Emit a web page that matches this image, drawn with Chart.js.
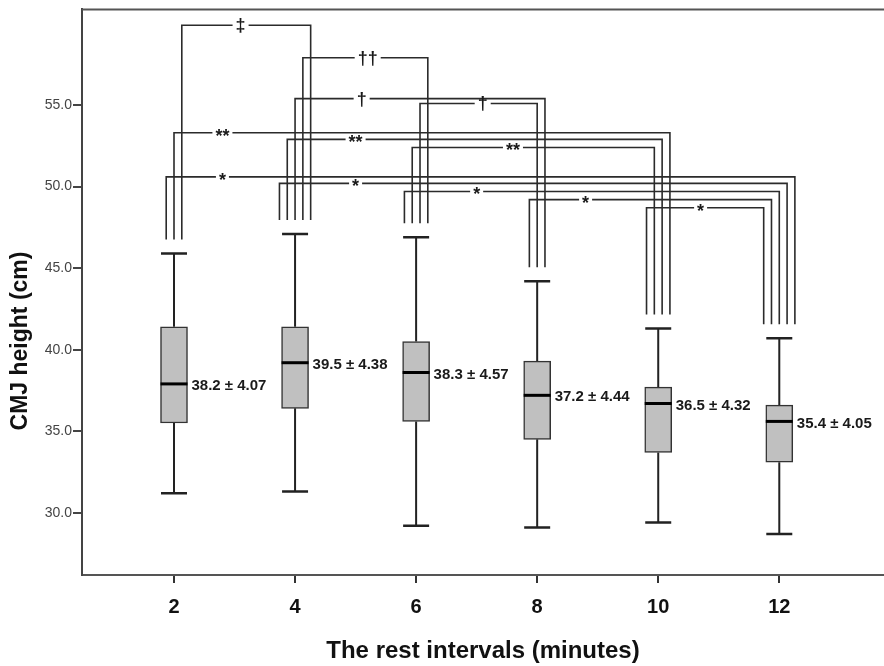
<!DOCTYPE html>
<html>
<head>
<meta charset="utf-8">
<script src="https://cdn.jsdelivr.net/npm/chart.js@4.4.1/dist/chart.umd.min.js"></script>
<style>
  body { margin: 0; background: #fff; }
</style>
</head>
<body>
<canvas id="cmjChart" width="884" height="666"></canvas>
<script>
// rest interval groups (minutes)
const restIntervals = [2, 4, 6, 8, 10, 12];
// box plot values, CMJ height in cm
const whiskerLow = [31.2, 31.3, 29.2, 29.1, 29.4, 28.7];
const quartile1 = [35.5, 36.4, 35.6, 34.5, 33.7, 33.1];
const medians = [37.9, 39.2, 38.6, 37.2, 36.7, 35.6];
const quartile3 = [41.4, 41.4, 40.5, 39.3, 37.7, 36.6];
const whiskerHigh = [45.9, 47.1, 46.9, 44.2, 41.3, 40.7];
// mean and sd written next to each box
const means = [38.2, 39.5, 38.3, 37.2, 36.5, 35.4];
const sds = [4.07, 4.38, 4.57, 4.44, 4.32, 4.05];
const yTicks = [30, 35, 40, 45, 50, 55];

// significance brackets: groups compared, marker, bar height (cm), marker place (minutes)
const pairs = [[2, 4], [4, 6], [4, 8], [6, 8], [2, 10], [4, 10], [6, 10], [2, 12], [4, 12], [6, 12], [8, 12], [10, 12]];
const markers = ['‡', '††', '†', '†', '**', '**', '**', '*', '*', '*', '*', '*'];
const bracketLevels = [59.9, 57.9, 55.4, 55.1, 53.3, 52.9, 52.4, 50.6, 50.2, 49.7, 49.2, 48.7];
const markerAt = [3.1, 5.2, 5.1, 7.1, 2.8, 5.0, 7.6, 2.8, 5.0, 7.0, 8.8, 10.7];

Chart.defaults.font.family = "'Liberation Sans', Arial, sans-serif";

const boxPlotExtras = {
  id: 'boxPlotExtras',
  beforeDatasetsDraw(chart) {
    const { ctx, scales: { x, y } } = chart;
    ctx.save();
    ctx.strokeStyle = '#222';
    restIntervals.forEach((r, i) => {
      const cx = x.getPixelForValue(r);
      const top = y.getPixelForValue(whiskerHigh[i]);
      const bottom = y.getPixelForValue(whiskerLow[i]);
      ctx.lineWidth = 2;
      ctx.beginPath();
      ctx.moveTo(cx, y.getPixelForValue(quartile3[i]));
      ctx.lineTo(cx, top);
      ctx.moveTo(cx, y.getPixelForValue(quartile1[i]));
      ctx.lineTo(cx, bottom);
      ctx.stroke();
      // whisker caps
      ctx.lineWidth = 2.5;
      ctx.beginPath();
      ctx.moveTo(cx - 13, top);
      ctx.lineTo(cx + 13, top);
      ctx.moveTo(cx - 13, bottom);
      ctx.lineTo(cx + 13, bottom);
      ctx.stroke();
    });
    ctx.restore();
  },
  afterDatasetsDraw(chart) {
    const { ctx, chartArea, scales: { x, y } } = chart;
    ctx.save();

    // medians and mean ± sd labels
    restIntervals.forEach((r, i) => {
      const cx = x.getPixelForValue(r);
      const my = y.getPixelForValue(medians[i]);
      ctx.strokeStyle = '#000';
      ctx.lineWidth = 3;
      ctx.beginPath();
      ctx.moveTo(cx - 13.5, my);
      ctx.lineTo(cx + 13.5, my);
      ctx.stroke();
      ctx.fillStyle = '#1a1a1a';
      ctx.font = "bold 15px 'Liberation Sans', Arial, sans-serif";
      ctx.textAlign = 'left';
      ctx.textBaseline = 'middle';
      ctx.fillText(means[i].toFixed(1) + ' ± ' + sds[i].toFixed(2), cx + 17.5, my + 2);
    });

    // which legs stand on which box, lowest bar on the left
    const legs = restIntervals.map(() => []);
    pairs.forEach((p, k) => p.forEach(g => legs[restIntervals.indexOf(g)].push(k)));
    legs.forEach(list => list.sort((a, b) => bracketLevels[a] - bracketLevels[b]));
    const legGap = 7.8;
    const legX = (k, g) => {
      const list = legs[restIntervals.indexOf(g)];
      return x.getPixelForValue(g) + (list.indexOf(k) - (list.length - 1) / 2) * legGap;
    };
    const legEnd = g => y.getPixelForValue(whiskerHigh[restIntervals.indexOf(g)]) - 14;

    ctx.strokeStyle = '#2b2b2b';
    ctx.lineWidth = 1.6;
    pairs.forEach((p, k) => {
      const ly = y.getPixelForValue(bracketLevels[k]);
      const x1 = legX(k, p[0]);
      const x2 = legX(k, p[1]);
      ctx.beginPath();
      ctx.moveTo(x1, legEnd(p[0]));
      ctx.lineTo(x1, ly);
      ctx.lineTo(x2, ly);
      ctx.lineTo(x2, legEnd(p[1]));
      ctx.stroke();
    });

    ctx.font = "bold 18px 'Liberation Sans', Arial, sans-serif";
    ctx.textAlign = 'center';
    ctx.textBaseline = 'middle';
    pairs.forEach((p, k) => {
      const ly = y.getPixelForValue(bracketLevels[k]);
      const mx = x.getPixelForValue(markerAt[k]);
      const w = ctx.measureText(markers[k]).width;
      ctx.fillStyle = '#fff';
      ctx.fillRect(mx - w / 2 - 3, ly - 3, w + 6, 6);
      ctx.fillStyle = '#1a1a1a';
      ctx.fillText(markers[k], mx, ly + (markers[k][0] === '*' ? 4 : 1));
    });

    // top frame line
    ctx.strokeStyle = '#555';
    ctx.lineWidth = 2;
    ctx.beginPath();
    ctx.moveTo(chartArea.left, chartArea.top);
    ctx.lineTo(chartArea.right, chartArea.top);
    ctx.stroke();

    // y axis title
    ctx.translate(21, 341);
    ctx.rotate(-Math.PI / 2);
    ctx.fillStyle = '#111';
    ctx.font = "bold 23px 'Liberation Sans', Arial, sans-serif";
    ctx.fillText('CMJ height (cm)', 0, 0);
    ctx.restore();
  }
};

new Chart(document.getElementById('cmjChart'), {
  type: 'bar',
  data: {
    datasets: [{
      data: restIntervals.map((r, i) => ({ x: r, y: [quartile1[i], quartile3[i]] })),
      backgroundColor: '#c0c0c0',
      borderColor: '#333',
      borderWidth: 1.5,
      borderSkipped: false,
      barThickness: 27
    }]
  },
  options: {
    responsive: false,
    devicePixelRatio: 1,
    animation: false,
    layout: { padding: { top: 6, right: 0, bottom: 0, left: 0 } },
    plugins: { legend: { display: false }, tooltip: { enabled: false } },
    scales: {
      x: {
        type: 'linear',
        min: 0.48,
        max: 13.73,
        offset: false,
        afterBuildTicks: s => { s.ticks = restIntervals.map(v => ({ value: v })); },
        afterFit: s => { s.height = 91; },
        grid: { display: true, drawOnChartArea: false, offset: false, tickLength: 8, tickColor: '#333', lineWidth: 2 },
        border: { display: true, color: '#555', width: 2 },
        ticks: { color: '#111', font: { size: 20, weight: 'bold' }, padding: 12, maxRotation: 0, autoSkip: false },
        title: { display: true, text: 'The rest intervals (minutes)', color: '#111', font: { size: 24, weight: 'bold' }, padding: 0 }
      },
      y: {
        min: 26.18,
        max: 60.87,
        afterBuildTicks: s => { s.ticks = yTicks.map(v => ({ value: v })); },
        afterFit: s => { s.width = 82; },
        grid: { display: true, drawOnChartArea: false, tickLength: 9, tickColor: '#444', lineWidth: 2 },
        border: { display: true, color: '#444', width: 2 },
        ticks: { color: '#444', font: { size: 14 }, padding: 1, callback: v => v.toFixed(1) }
      }
    }
  },
  plugins: [boxPlotExtras]
});
</script>
</body>
</html>
